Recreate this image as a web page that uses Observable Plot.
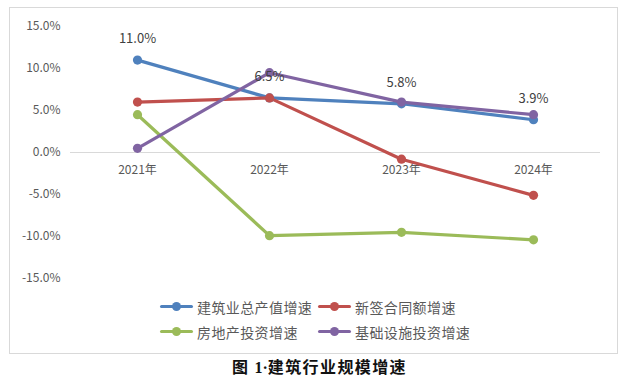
<!DOCTYPE html>
<html>
<head>
<meta charset="utf-8">
<script src="https://cdn.jsdelivr.net/npm/d3@7"></script>
<script src="https://cdn.jsdelivr.net/npm/@observablehq/plot@0.6"></script>
<style>
  html, body { margin: 0; padding: 0; background: #fff; }
  #wrap { position: relative; width: 623px; height: 383px; font-family: "Noto Sans CJK SC", "Noto Sans", sans-serif; }
  #frame { position: absolute; left: 9px; top: 7px; width: 607px; height: 345px; border: 1px solid #d9d9d9; box-sizing: content-box; }
  #chart { position: absolute; left: 0; top: 0; }
  #legend { position: absolute; left: 160px; top: 294px; width: 360px; font-size: 14px; color: #595959; letter-spacing: 0.4px; white-space: nowrap; }
  .row { display: flex; height: 25px; align-items: center; }
  .item { display: flex; align-items: center; flex-shrink: 0; }
  .item:first-child { width: 158px; }
  .sw { position: relative; width: 33px; height: 12px; margin-right: 4px; flex-shrink: 0; }
  .sw .ln { position: absolute; left: 0; right: 0; top: 4.5px; height: 3px; border-radius: 2px; }
  .sw .dt { position: absolute; left: 12px; top: 1.5px; width: 9px; height: 9px; border-radius: 50%; }
  #caption { position: absolute; left: 232px; top: 356px; line-height: 20px; font-size: 16px; font-weight: bold; color: #111; letter-spacing: 1.4px; white-space: nowrap; }
  #caption .num { font-family: "Liberation Serif", serif; letter-spacing: 0; }
</style>
</head>
<body>
<div id="wrap">
  <div id="frame"></div>
  <div id="chart"></div>
  <div id="legend"></div>
  <div id="caption">图 <span class="num">1·</span>建筑行业规模增速</div>
</div>
<script>
const categories = ["2021年", "2022年", "2023年", "2024年"];
const seriesNames = ["建筑业总产值增速", "新签合同额增速", "房地产投资增速", "基础设施投资增速"];
const seriesColors = ["#4f81bd", "#c0504d", "#9bbb59", "#8064a2"];
const constructionOutput = [11.0, 6.5, 5.8, 3.9];
const newContracts = [6.0, 6.5, -0.8, -5.1];
const realEstateInvest = [4.5, -9.9, -9.5, -10.4];
const infraInvest = [0.5, 9.5, 6.0, 4.5];
const yTicks = [-15, -10, -5, 0, 5, 10, 15];
const labeledSeries = "建筑业总产值增速";

const seriesValues = [constructionOutput, newContracts, realEstateInvest, infraInvest];
const data = [];
seriesNames.forEach((s, i) => {
  categories.forEach((c, j) => data.push({series: s, year: c, value: seriesValues[i][j]}));
});
const labelData = data.filter(d => d.series === labeledSeries);

const color = {domain: seriesNames, range: seriesColors};

const plot = Plot.plot({
  width: 623,
  height: 290,
  marginLeft: 70,
  marginRight: 23,
  marginTop: 26,
  marginBottom: 12,
  style: {fontFamily: '"Noto Sans CJK SC", "Noto Sans", sans-serif', color: "#595959", background: "transparent"},
  x: {type: "point", domain: categories, padding: 0.5, axis: null},
  y: {domain: [-15, 15], axis: null},
  color,
  marks: [
    Plot.ruleY([0], {stroke: "#d9d9d9", strokeWidth: 1}),
    Plot.axisY({ticks: yTicks, tickSize: 0, tickPadding: 10, fontSize: 12, tickFormat: d => d.toFixed(1) + "%", label: null}),
    Plot.text(categories, {x: d => d, y: () => 0, dy: 18, fontSize: 12, fill: "#595959"}),
    Plot.line(data, {x: "year", y: "value", z: "series", stroke: "series", strokeWidth: 3.2}),
    Plot.dot(data, {x: "year", y: "value", fill: "series", r: 4.6}),
    Plot.text(labelData, {x: "year", y: "value", text: d => d.value.toFixed(1) + "%", dy: -21, fontSize: 13, fill: "#404040"})
  ]
});
document.getElementById("chart").appendChild(plot);

const legend = document.getElementById("legend");
for (let r = 0; r < 2; r++) {
  const row = document.createElement("div");
  row.className = "row";
  for (let c = 0; c < 2; c++) {
    const i = r * 2 + c;
    const item = document.createElement("div");
    item.className = "item";
    item.innerHTML = `<span class="sw"><span class="ln" style="background:${seriesColors[i]}"></span><span class="dt" style="background:${seriesColors[i]}"></span></span><span>${seriesNames[i]}</span>`;
    row.appendChild(item);
  }
  legend.appendChild(row);
}
</script>
</body>
</html>
